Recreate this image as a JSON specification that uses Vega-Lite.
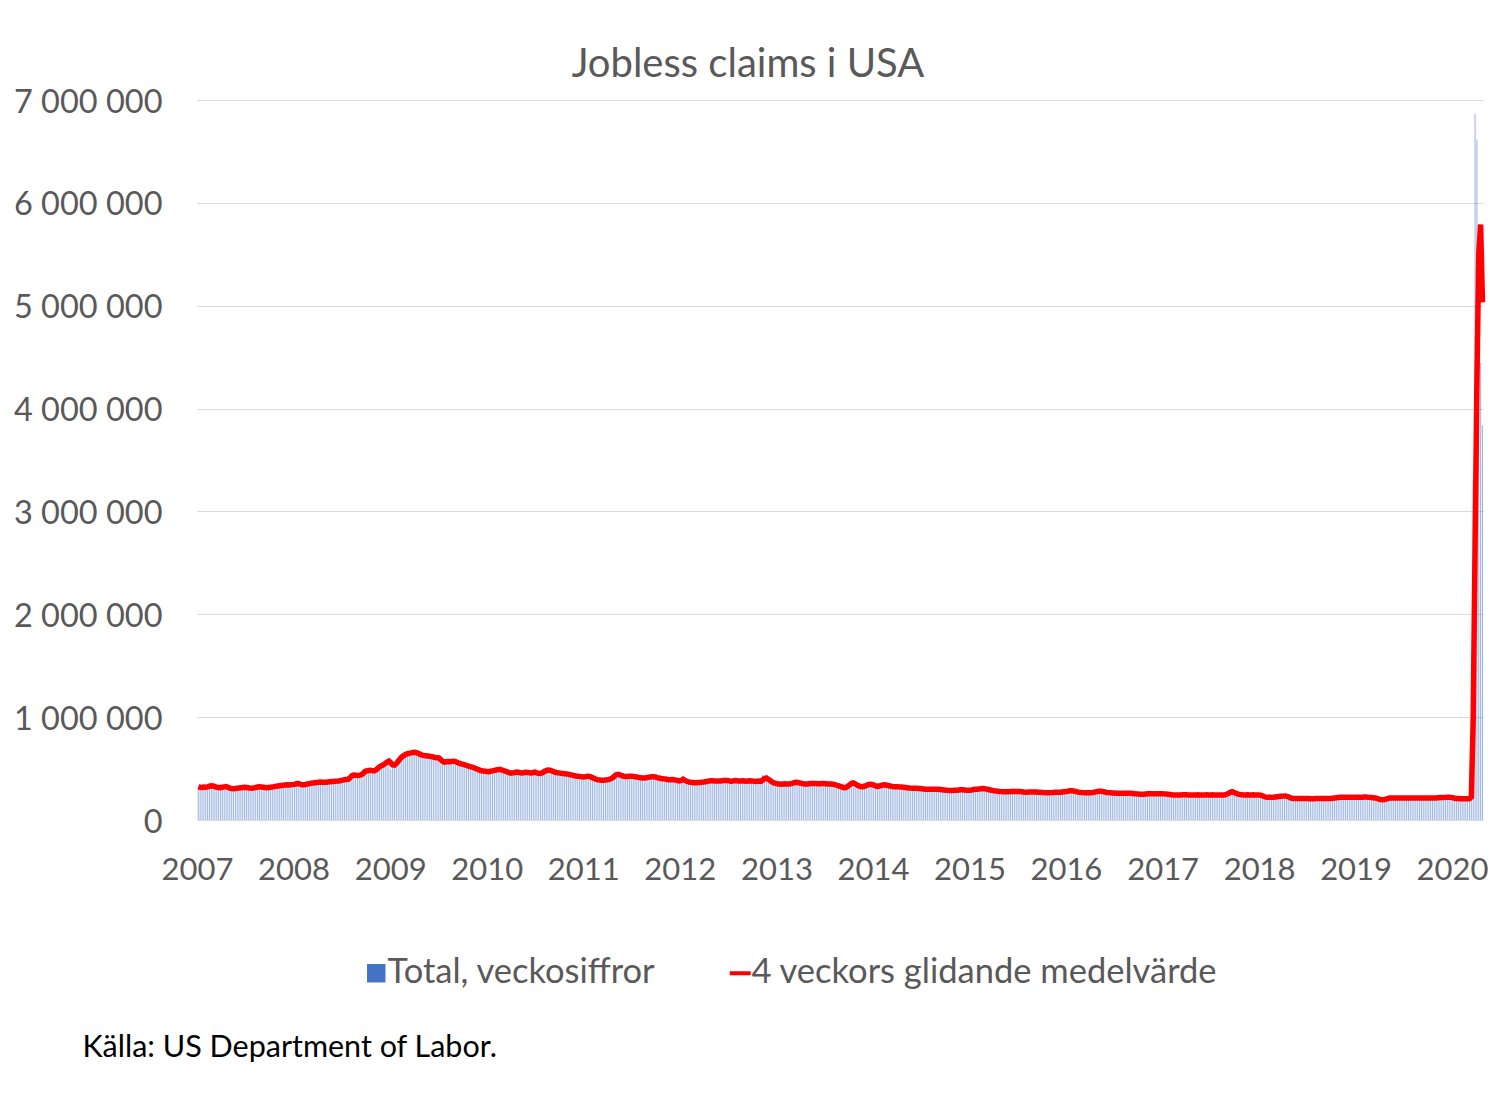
{
"$schema": "https://vega.github.io/schema/vega-lite/v6.json",
"width": 1286,
"height": 720,
"autosize": {"type": "none"},
"padding": {"left": 197, "top": 100, "right": 12, "bottom": 285},
"background": "white",
"config": {"view": {"stroke": null}, "font": "Lato"},
"title": {"text": "Jobless claims i USA", "font": "Lato", "fontSize": 40, "fontWeight": "normal", "color": "#595959", "anchor": "middle", "frame": "group", "dx": -92, "dy": 41, "baseline": "alphabetic", "offset": 10},
"data": {"values": [
{"d":"2007-01-06","c":326000,"m":323000},{"d":"2007-01-13","c":302000,"m":318000},{"d":"2007-01-20","c":314000,"m":316000},{"d":"2007-01-27","c":338000,"m":320000},
{"d":"2007-02-03","c":318000,"m":318000},{"d":"2007-02-10","c":350000,"m":322000},{"d":"2007-02-17","c":335000,"m":328000},{"d":"2007-02-24","c":332000,"m":332000},
{"d":"2007-03-03","c":318000,"m":330000},{"d":"2007-03-10","c":320000,"m":325000},{"d":"2007-03-17","c":311000,"m":318000},{"d":"2007-03-24","c":312000,"m":316000},{"d":"2007-03-31","c":318000,"m":314000},
{"d":"2007-04-07","c":322000,"m":318000},{"d":"2007-04-14","c":336000,"m":322000},{"d":"2007-04-21","c":320000,"m":324000},{"d":"2007-04-28","c":296000,"m":318000},
{"d":"2007-05-05","c":302000,"m":310000},{"d":"2007-05-12","c":306000,"m":306000},{"d":"2007-05-19","c":310000,"m":304000},{"d":"2007-05-26","c":308000,"m":306000},
{"d":"2007-06-02","c":310000,"m":308000},{"d":"2007-06-09","c":318000,"m":312000},{"d":"2007-06-16","c":316000,"m":314000},{"d":"2007-06-23","c":320000,"m":316000},{"d":"2007-06-30","c":316000,"m":318000},
{"d":"2007-07-07","c":310000,"m":316000},{"d":"2007-07-14","c":306000,"m":314000},{"d":"2007-07-21","c":302000,"m":310000},{"d":"2007-07-28","c":312000,"m":308000},
{"d":"2007-08-04","c":318000,"m":312000},{"d":"2007-08-11","c":322000,"m":316000},{"d":"2007-08-18","c":324000,"m":320000},{"d":"2007-08-25","c":318000,"m":322000},
{"d":"2007-09-01","c":316000,"m":320000},{"d":"2007-09-08","c":318000,"m":318000},{"d":"2007-09-15","c":310000,"m":316000},{"d":"2007-09-22","c":316000,"m":314000},{"d":"2007-09-29","c":320000,"m":316000},
{"d":"2007-10-06","c":324000,"m":318000},{"d":"2007-10-13","c":322000,"m":320000},{"d":"2007-10-20","c":332000,"m":324000},{"d":"2007-10-27","c":334000,"m":328000},
{"d":"2007-11-03","c":330000,"m":330000},{"d":"2007-11-10","c":340000,"m":334000},{"d":"2007-11-17","c":336000,"m":336000},{"d":"2007-11-24","c":342000,"m":338000},
{"d":"2007-12-01","c":344000,"m":340000},{"d":"2007-12-08","c":338000,"m":342000},{"d":"2007-12-15","c":340000,"m":340000},{"d":"2007-12-22","c":348000,"m":342000},{"d":"2007-12-29","c":350000,"m":344000},
{"d":"2008-01-05","c":344000,"m":346000},{"d":"2008-01-12","c":364000,"m":352000},{"d":"2008-01-19","c":352000,"m":354000},{"d":"2008-01-26","c":332000,"m":348000},
{"d":"2008-02-02","c":336000,"m":342000},{"d":"2008-02-09","c":348000,"m":342000},{"d":"2008-02-16","c":352000,"m":346000},{"d":"2008-02-23","c":362000,"m":350000},
{"d":"2008-03-01","c":356000,"m":354000},{"d":"2008-03-08","c":360000,"m":358000},{"d":"2008-03-15","c":362000,"m":360000},{"d":"2008-03-22","c":370000,"m":362000},{"d":"2008-03-29","c":366000,"m":364000},
{"d":"2008-04-05","c":374000,"m":368000},{"d":"2008-04-12","c":368000,"m":370000},{"d":"2008-04-19","c":362000,"m":368000},{"d":"2008-04-26","c":360000,"m":366000},
{"d":"2008-05-03","c":374000,"m":368000},{"d":"2008-05-10","c":368000,"m":370000},{"d":"2008-05-17","c":376000,"m":372000},{"d":"2008-05-24","c":372000,"m":374000},{"d":"2008-05-31","c":380000,"m":374000},
{"d":"2008-06-07","c":372000,"m":376000},{"d":"2008-06-14","c":382000,"m":378000},{"d":"2008-06-21","c":378000,"m":380000},{"d":"2008-06-28","c":396000,"m":384000},
{"d":"2008-07-05","c":392000,"m":388000},{"d":"2008-07-12","c":400000,"m":392000},{"d":"2008-07-19","c":390000,"m":394000},{"d":"2008-07-26","c":402000,"m":396000},
{"d":"2008-08-02","c":450000,"m":410000},{"d":"2008-08-09","c":460000,"m":430000},{"d":"2008-08-16","c":436000,"m":438000},{"d":"2008-08-23","c":420000,"m":436000},{"d":"2008-08-30","c":428000,"m":432000},
{"d":"2008-09-06","c":450000,"m":434000},{"d":"2008-09-13","c":456000,"m":440000},{"d":"2008-09-20","c":480000,"m":452000},{"d":"2008-09-27","c":500000,"m":470000},
{"d":"2008-10-04","c":478000,"m":478000},{"d":"2008-10-11","c":468000,"m":482000},{"d":"2008-10-18","c":482000,"m":484000},{"d":"2008-10-25","c":476000,"m":480000},
{"d":"2008-11-01","c":486000,"m":478000},{"d":"2008-11-08","c":512000,"m":486000},{"d":"2008-11-15","c":536000,"m":502000},{"d":"2008-11-22","c":532000,"m":518000},{"d":"2008-11-29","c":518000,"m":528000},
{"d":"2008-12-06","c":560000,"m":536000},{"d":"2008-12-13","c":574000,"m":550000},{"d":"2008-12-20","c":584000,"m":562000},{"d":"2008-12-27","c":572000,"m":572000},
{"d":"2009-01-03","c":492000,"m":556000},{"d":"2009-01-10","c":510000,"m":536000},{"d":"2009-01-17","c":562000,"m":534000},{"d":"2009-01-24","c":590000,"m":548000},{"d":"2009-01-31","c":616000,"m":570000},
{"d":"2009-02-07","c":628000,"m":594000},{"d":"2009-02-14","c":620000,"m":614000},{"d":"2009-02-21","c":640000,"m":626000},{"d":"2009-02-28","c":660000,"m":638000},
{"d":"2009-03-07","c":648000,"m":644000},{"d":"2009-03-14","c":652000,"m":648000},{"d":"2009-03-21","c":654000,"m":652000},{"d":"2009-03-28","c":666000,"m":656000},
{"d":"2009-04-04","c":658000,"m":658000},{"d":"2009-04-11","c":640000,"m":654000},{"d":"2009-04-18","c":624000,"m":646000},{"d":"2009-04-25","c":628000,"m":638000},
{"d":"2009-05-02","c":620000,"m":630000},{"d":"2009-05-09","c":634000,"m":626000},{"d":"2009-05-16","c":628000,"m":624000},{"d":"2009-05-23","c":612000,"m":622000},{"d":"2009-05-30","c":620000,"m":620000},
{"d":"2009-06-06","c":608000,"m":616000},{"d":"2009-06-13","c":610000,"m":612000},{"d":"2009-06-20","c":614000,"m":608000},{"d":"2009-06-27","c":594000,"m":606000},
{"d":"2009-07-04","c":608000,"m":604000},{"d":"2009-07-11","c":540000,"m":588000},{"d":"2009-07-18","c":550000,"m":570000},{"d":"2009-07-25","c":586000,"m":562000},
{"d":"2009-08-01","c":574000,"m":566000},{"d":"2009-08-08","c":562000,"m":568000},{"d":"2009-08-15","c":568000,"m":566000},{"d":"2009-08-22","c":574000,"m":570000},{"d":"2009-08-29","c":578000,"m":572000},
{"d":"2009-09-05","c":560000,"m":568000},{"d":"2009-09-12","c":546000,"m":560000},{"d":"2009-09-19","c":542000,"m":552000},{"d":"2009-09-26","c":536000,"m":546000},
{"d":"2009-10-03","c":540000,"m":542000},{"d":"2009-10-10","c":528000,"m":536000},{"d":"2009-10-17","c":524000,"m":530000},{"d":"2009-10-24","c":520000,"m":524000},{"d":"2009-10-31","c":510000,"m":518000},
{"d":"2009-11-07","c":510000,"m":514000},{"d":"2009-11-14","c":500000,"m":508000},{"d":"2009-11-21","c":478000,"m":500000},{"d":"2009-11-28","c":486000,"m":494000},
{"d":"2009-12-05","c":470000,"m":484000},{"d":"2009-12-12","c":480000,"m":478000},{"d":"2009-12-19","c":468000,"m":476000},{"d":"2009-12-26","c":462000,"m":474000},
{"d":"2010-01-02","c":450000,"m":472000},{"d":"2010-01-09","c":470000,"m":470000},{"d":"2010-01-16","c":486000,"m":474000},{"d":"2010-01-23","c":476000,"m":478000},{"d":"2010-01-30","c":484000,"m":482000},
{"d":"2010-02-06","c":476000,"m":486000},{"d":"2010-02-13","c":492000,"m":490000},{"d":"2010-02-20","c":500000,"m":492000},{"d":"2010-02-27","c":472000,"m":486000},
{"d":"2010-03-06","c":474000,"m":480000},{"d":"2010-03-13","c":460000,"m":474000},{"d":"2010-03-20","c":456000,"m":468000},{"d":"2010-03-27","c":448000,"m":460000},
{"d":"2010-04-03","c":454000,"m":456000},{"d":"2010-04-10","c":466000,"m":458000},{"d":"2010-04-17","c":468000,"m":462000},{"d":"2010-04-24","c":460000,"m":466000},
{"d":"2010-05-01","c":452000,"m":464000},{"d":"2010-05-08","c":456000,"m":460000},{"d":"2010-05-15","c":468000,"m":458000},{"d":"2010-05-22","c":466000,"m":462000},{"d":"2010-05-29","c":458000,"m":464000},
{"d":"2010-06-05","c":462000,"m":462000},{"d":"2010-06-12","c":458000,"m":460000},{"d":"2010-06-19","c":466000,"m":458000},{"d":"2010-06-26","c":468000,"m":462000},
{"d":"2010-07-03","c":470000,"m":466000},{"d":"2010-07-10","c":440000,"m":458000},{"d":"2010-07-17","c":450000,"m":452000},{"d":"2010-07-24","c":462000,"m":454000},{"d":"2010-07-31","c":474000,"m":460000},
{"d":"2010-08-07","c":488000,"m":472000},{"d":"2010-08-14","c":498000,"m":480000},{"d":"2010-08-21","c":486000,"m":486000},{"d":"2010-08-28","c":470000,"m":484000},
{"d":"2010-09-04","c":464000,"m":478000},{"d":"2010-09-11","c":456000,"m":470000},{"d":"2010-09-18","c":462000,"m":464000},{"d":"2010-09-25","c":456000,"m":460000},
{"d":"2010-10-02","c":456000,"m":458000},{"d":"2010-10-09","c":450000,"m":454000},{"d":"2010-10-16","c":452000,"m":452000},{"d":"2010-10-23","c":444000,"m":450000},{"d":"2010-10-30","c":446000,"m":448000},
{"d":"2010-11-06","c":440000,"m":446000},{"d":"2010-11-13","c":434000,"m":440000},{"d":"2010-11-20","c":428000,"m":436000},{"d":"2010-11-27","c":428000,"m":432000},
{"d":"2010-12-04","c":424000,"m":428000},{"d":"2010-12-11","c":420000,"m":426000},{"d":"2010-12-18","c":424000,"m":424000},{"d":"2010-12-25","c":416000,"m":422000},
{"d":"2011-01-01","c":410000,"m":418000},{"d":"2011-01-08","c":436000,"m":420000},{"d":"2011-01-15","c":426000,"m":424000},{"d":"2011-01-22","c":432000,"m":426000},{"d":"2011-01-29","c":400000,"m":420000},
{"d":"2011-02-05","c":392000,"m":412000},{"d":"2011-02-12","c":398000,"m":404000},{"d":"2011-02-19","c":392000,"m":396000},{"d":"2011-02-26","c":378000,"m":390000},
{"d":"2011-03-05","c":388000,"m":388000},{"d":"2011-03-12","c":390000,"m":386000},{"d":"2011-03-19","c":386000,"m":386000},{"d":"2011-03-26","c":392000,"m":388000},
{"d":"2011-04-02","c":394000,"m":390000},{"d":"2011-04-09","c":402000,"m":394000},{"d":"2011-04-16","c":414000,"m":402000},{"d":"2011-04-23","c":428000,"m":412000},{"d":"2011-04-30","c":474000,"m":428000},
{"d":"2011-05-07","c":442000,"m":440000},{"d":"2011-05-14","c":432000,"m":444000},{"d":"2011-05-21","c":426000,"m":438000},{"d":"2011-05-28","c":426000,"m":430000},
{"d":"2011-06-04","c":424000,"m":426000},{"d":"2011-06-11","c":420000,"m":424000},{"d":"2011-06-18","c":428000,"m":424000},{"d":"2011-06-25","c":430000,"m":426000},
{"d":"2011-07-02","c":426000,"m":426000},{"d":"2011-07-09","c":420000,"m":424000},{"d":"2011-07-16","c":414000,"m":420000},{"d":"2011-07-23","c":412000,"m":418000},{"d":"2011-07-30","c":408000,"m":414000},
{"d":"2011-08-06","c":402000,"m":410000},{"d":"2011-08-13","c":410000,"m":408000},{"d":"2011-08-20","c":414000,"m":408000},{"d":"2011-08-27","c":418000,"m":410000},
{"d":"2011-09-03","c":420000,"m":414000},{"d":"2011-09-10","c":426000,"m":418000},{"d":"2011-09-17","c":418000,"m":420000},{"d":"2011-09-24","c":414000,"m":420000},
{"d":"2011-10-01","c":412000,"m":418000},{"d":"2011-10-08","c":406000,"m":412000},{"d":"2011-10-15","c":402000,"m":408000},{"d":"2011-10-22","c":400000,"m":404000},{"d":"2011-10-29","c":398000,"m":402000},
{"d":"2011-11-05","c":396000,"m":400000},{"d":"2011-11-12","c":390000,"m":396000},{"d":"2011-11-19","c":388000,"m":392000},{"d":"2011-11-26","c":396000,"m":392000},
{"d":"2011-12-03","c":398000,"m":394000},{"d":"2011-12-10","c":382000,"m":392000},{"d":"2011-12-17","c":374000,"m":388000},{"d":"2011-12-24","c":380000,"m":384000},{"d":"2011-12-31","c":372000,"m":380000},
{"d":"2012-01-07","c":390000,"m":384000},{"d":"2012-01-14","c":420000,"m":396000},{"d":"2012-01-21","c":362000,"m":386000},{"d":"2012-01-28","c":372000,"m":376000},
{"d":"2012-02-04","c":364000,"m":370000},{"d":"2012-02-11","c":362000,"m":366000},{"d":"2012-02-18","c":358000,"m":364000},{"d":"2012-02-25","c":362000,"m":362000},
{"d":"2012-03-03","c":364000,"m":362000},{"d":"2012-03-10","c":366000,"m":364000},{"d":"2012-03-17","c":360000,"m":364000},{"d":"2012-03-24","c":374000,"m":366000},{"d":"2012-03-31","c":372000,"m":368000},
{"d":"2012-04-07","c":378000,"m":372000},{"d":"2012-04-14","c":384000,"m":376000},{"d":"2012-04-21","c":384000,"m":380000},{"d":"2012-04-28","c":378000,"m":382000},
{"d":"2012-05-05","c":376000,"m":382000},{"d":"2012-05-12","c":374000,"m":380000},{"d":"2012-05-19","c":380000,"m":378000},{"d":"2012-05-26","c":384000,"m":378000},
{"d":"2012-06-02","c":382000,"m":380000},{"d":"2012-06-09","c":386000,"m":382000},{"d":"2012-06-16","c":388000,"m":384000},{"d":"2012-06-23","c":380000,"m":384000},{"d":"2012-06-30","c":382000,"m":384000},
{"d":"2012-07-07","c":368000,"m":380000},{"d":"2012-07-14","c":372000,"m":376000},{"d":"2012-07-21","c":392000,"m":380000},{"d":"2012-07-28","c":384000,"m":384000},
{"d":"2012-08-04","c":376000,"m":382000},{"d":"2012-08-11","c":374000,"m":380000},{"d":"2012-08-18","c":384000,"m":380000},{"d":"2012-08-25","c":386000,"m":382000},
{"d":"2012-09-01","c":378000,"m":380000},{"d":"2012-09-08","c":374000,"m":378000},{"d":"2012-09-15","c":384000,"m":380000},{"d":"2012-09-22","c":386000,"m":382000},{"d":"2012-09-29","c":370000,"m":380000},
{"d":"2012-10-06","c":372000,"m":378000},{"d":"2012-10-13","c":350000,"m":374000},{"d":"2012-10-20","c":390000,"m":376000},{"d":"2012-10-27","c":380000,"m":378000},
{"d":"2012-11-03","c":372000,"m":376000},{"d":"2012-11-10","c":440000,"m":388000},{"d":"2012-11-17","c":420000,"m":404000},{"d":"2012-11-24","c":400000,"m":408000},
{"d":"2012-12-01","c":372000,"m":396000},{"d":"2012-12-08","c":346000,"m":384000},{"d":"2012-12-15","c":362000,"m":370000},{"d":"2012-12-22","c":354000,"m":360000},{"d":"2012-12-29","c":364000,"m":356000},
{"d":"2013-01-05","c":356000,"m":352000},{"d":"2013-01-12","c":338000,"m":350000},{"d":"2013-01-19","c":344000,"m":348000},{"d":"2013-01-26","c":362000,"m":350000},
{"d":"2013-02-02","c":356000,"m":352000},{"d":"2013-02-09","c":346000,"m":350000},{"d":"2013-02-16","c":348000,"m":350000},{"d":"2013-02-23","c":352000,"m":352000},
{"d":"2013-03-02","c":362000,"m":356000},{"d":"2013-03-09","c":368000,"m":362000},{"d":"2013-03-16","c":370000,"m":366000},{"d":"2013-03-23","c":362000,"m":364000},{"d":"2013-03-30","c":350000,"m":360000},
{"d":"2013-04-06","c":352000,"m":356000},{"d":"2013-04-13","c":348000,"m":352000},{"d":"2013-04-20","c":346000,"m":350000},{"d":"2013-04-27","c":350000,"m":350000},
{"d":"2013-05-04","c":354000,"m":352000},{"d":"2013-05-11","c":358000,"m":354000},{"d":"2013-05-18","c":352000,"m":354000},{"d":"2013-05-25","c":354000,"m":354000},
{"d":"2013-06-01","c":352000,"m":354000},{"d":"2013-06-08","c":350000,"m":352000},{"d":"2013-06-15","c":354000,"m":352000},{"d":"2013-06-22","c":358000,"m":354000},{"d":"2013-06-29","c":352000,"m":354000},
{"d":"2013-07-06","c":350000,"m":352000},{"d":"2013-07-13","c":348000,"m":350000},{"d":"2013-07-20","c":352000,"m":350000},{"d":"2013-07-27","c":350000,"m":350000},
{"d":"2013-08-03","c":344000,"m":348000},{"d":"2013-08-10","c":338000,"m":344000},{"d":"2013-08-17","c":330000,"m":338000},{"d":"2013-08-24","c":326000,"m":332000},{"d":"2013-08-31","c":318000,"m":326000},
{"d":"2013-09-07","c":300000,"m":320000},{"d":"2013-09-14","c":310000,"m":314000},{"d":"2013-09-21","c":320000,"m":316000},{"d":"2013-09-28","c":340000,"m":328000},
{"d":"2013-10-05","c":370000,"m":342000},{"d":"2013-10-12","c":372000,"m":356000},{"d":"2013-10-19","c":356000,"m":360000},{"d":"2013-10-26","c":340000,"m":352000},
{"d":"2013-11-02","c":330000,"m":340000},{"d":"2013-11-09","c":326000,"m":332000},{"d":"2013-11-16","c":322000,"m":326000},{"d":"2013-11-23","c":320000,"m":324000},{"d":"2013-11-30","c":340000,"m":328000},
{"d":"2013-12-07","c":352000,"m":336000},{"d":"2013-12-14","c":356000,"m":344000},{"d":"2013-12-21","c":344000,"m":348000},{"d":"2013-12-28","c":340000,"m":346000},
{"d":"2014-01-04","c":332000,"m":340000},{"d":"2014-01-11","c":320000,"m":332000},{"d":"2014-01-18","c":318000,"m":326000},{"d":"2014-01-25","c":336000,"m":330000},
{"d":"2014-02-01","c":340000,"m":336000},{"d":"2014-02-08","c":344000,"m":340000},{"d":"2014-02-15","c":346000,"m":342000},{"d":"2014-02-22","c":334000,"m":338000},
{"d":"2014-03-01","c":330000,"m":334000},{"d":"2014-03-08","c":326000,"m":330000},{"d":"2014-03-15","c":322000,"m":326000},{"d":"2014-03-22","c":324000,"m":324000},{"d":"2014-03-29","c":326000,"m":324000},
{"d":"2014-04-05","c":322000,"m":324000},{"d":"2014-04-12","c":318000,"m":322000},{"d":"2014-04-19","c":322000,"m":320000},{"d":"2014-04-26","c":316000,"m":318000},
{"d":"2014-05-03","c":314000,"m":316000},{"d":"2014-05-10","c":310000,"m":314000},{"d":"2014-05-17","c":314000,"m":312000},{"d":"2014-05-24","c":306000,"m":310000},{"d":"2014-05-31","c":310000,"m":308000},
{"d":"2014-06-07","c":306000,"m":308000},{"d":"2014-06-14","c":310000,"m":308000},{"d":"2014-06-21","c":304000,"m":306000},{"d":"2014-06-28","c":308000,"m":306000},
{"d":"2014-07-05","c":302000,"m":304000},{"d":"2014-07-12","c":298000,"m":302000},{"d":"2014-07-19","c":296000,"m":300000},{"d":"2014-07-26","c":302000,"m":300000},
{"d":"2014-08-02","c":304000,"m":300000},{"d":"2014-08-09","c":298000,"m":300000},{"d":"2014-08-16","c":300000,"m":300000},{"d":"2014-08-23","c":302000,"m":300000},{"d":"2014-08-30","c":298000,"m":300000},
{"d":"2014-09-06","c":296000,"m":298000},{"d":"2014-09-13","c":294000,"m":296000},{"d":"2014-09-20","c":292000,"m":294000},{"d":"2014-09-27","c":290000,"m":292000},
{"d":"2014-10-04","c":288000,"m":290000},{"d":"2014-10-11","c":284000,"m":288000},{"d":"2014-10-18","c":286000,"m":286000},{"d":"2014-10-25","c":288000,"m":286000},
{"d":"2014-11-01","c":290000,"m":288000},{"d":"2014-11-08","c":292000,"m":290000},{"d":"2014-11-15","c":288000,"m":290000},{"d":"2014-11-22","c":296000,"m":292000},{"d":"2014-11-29","c":298000,"m":294000},
{"d":"2014-12-06","c":292000,"m":294000},{"d":"2014-12-13","c":290000,"m":292000},{"d":"2014-12-20","c":288000,"m":290000},{"d":"2014-12-27","c":292000,"m":290000},
{"d":"2015-01-03","c":292000,"m":290000},{"d":"2015-01-10","c":298000,"m":292000},{"d":"2015-01-17","c":300000,"m":296000},{"d":"2015-01-24","c":304000,"m":300000},{"d":"2015-01-31","c":296000,"m":300000},
{"d":"2015-02-07","c":304000,"m":302000},{"d":"2015-02-14","c":308000,"m":304000},{"d":"2015-02-21","c":312000,"m":306000},{"d":"2015-02-28","c":300000,"m":304000},
{"d":"2015-03-07","c":296000,"m":300000},{"d":"2015-03-14","c":292000,"m":296000},{"d":"2015-03-21","c":288000,"m":292000},{"d":"2015-03-28","c":284000,"m":288000},
{"d":"2015-04-04","c":282000,"m":284000},{"d":"2015-04-11","c":280000,"m":282000},{"d":"2015-04-18","c":278000,"m":280000},{"d":"2015-04-25","c":276000,"m":278000},
{"d":"2015-05-02","c":274000,"m":276000},{"d":"2015-05-09","c":272000,"m":274000},{"d":"2015-05-16","c":276000,"m":274000},{"d":"2015-05-23","c":274000,"m":274000},{"d":"2015-05-30","c":276000,"m":274000},
{"d":"2015-06-06","c":278000,"m":276000},{"d":"2015-06-13","c":274000,"m":276000},{"d":"2015-06-20","c":278000,"m":276000},{"d":"2015-06-27","c":276000,"m":276000},
{"d":"2015-07-04","c":278000,"m":276000},{"d":"2015-07-11","c":272000,"m":276000},{"d":"2015-07-18","c":270000,"m":274000},{"d":"2015-07-25","c":268000,"m":272000},
{"d":"2015-08-01","c":270000,"m":270000},{"d":"2015-08-08","c":272000,"m":270000},{"d":"2015-08-15","c":274000,"m":272000},{"d":"2015-08-22","c":272000,"m":272000},{"d":"2015-08-29","c":270000,"m":272000},
{"d":"2015-09-05","c":274000,"m":272000},{"d":"2015-09-12","c":270000,"m":272000},{"d":"2015-09-19","c":268000,"m":270000},{"d":"2015-09-26","c":270000,"m":270000},
{"d":"2015-10-03","c":266000,"m":268000},{"d":"2015-10-10","c":264000,"m":266000},{"d":"2015-10-17","c":262000,"m":264000},{"d":"2015-10-24","c":266000,"m":264000},{"d":"2015-10-31","c":266000,"m":264000},
{"d":"2015-11-07","c":268000,"m":266000},{"d":"2015-11-14","c":270000,"m":268000},{"d":"2015-11-21","c":272000,"m":270000},{"d":"2015-11-28","c":268000,"m":270000},
{"d":"2015-12-05","c":270000,"m":270000},{"d":"2015-12-12","c":272000,"m":270000},{"d":"2015-12-19","c":274000,"m":272000},{"d":"2015-12-26","c":278000,"m":274000},
{"d":"2016-01-02","c":280000,"m":276000},{"d":"2016-01-09","c":284000,"m":280000},{"d":"2016-01-16","c":288000,"m":284000},{"d":"2016-01-23","c":282000,"m":284000},{"d":"2016-01-30","c":278000,"m":282000},
{"d":"2016-02-06","c":272000,"m":278000},{"d":"2016-02-13","c":268000,"m":274000},{"d":"2016-02-20","c":266000,"m":270000},{"d":"2016-02-27","c":266000,"m":268000},
{"d":"2016-03-05","c":264000,"m":266000},{"d":"2016-03-12","c":262000,"m":264000},{"d":"2016-03-19","c":266000,"m":264000},{"d":"2016-03-26","c":264000,"m":264000},
{"d":"2016-04-02","c":266000,"m":264000},{"d":"2016-04-09","c":268000,"m":266000},{"d":"2016-04-16","c":276000,"m":270000},{"d":"2016-04-23","c":280000,"m":274000},{"d":"2016-04-30","c":284000,"m":278000},
{"d":"2016-05-07","c":282000,"m":280000},{"d":"2016-05-14","c":276000,"m":280000},{"d":"2016-05-21","c":270000,"m":276000},{"d":"2016-05-28","c":266000,"m":272000},
{"d":"2016-06-04","c":264000,"m":268000},{"d":"2016-06-11","c":264000,"m":266000},{"d":"2016-06-18","c":262000,"m":264000},{"d":"2016-06-25","c":260000,"m":262000},
{"d":"2016-07-02","c":262000,"m":262000},{"d":"2016-07-09","c":258000,"m":260000},{"d":"2016-07-16","c":260000,"m":260000},{"d":"2016-07-23","c":262000,"m":260000},{"d":"2016-07-30","c":260000,"m":260000},
{"d":"2016-08-06","c":258000,"m":260000},{"d":"2016-08-13","c":262000,"m":260000},{"d":"2016-08-20","c":260000,"m":260000},{"d":"2016-08-27","c":258000,"m":260000},
{"d":"2016-09-03","c":262000,"m":260000},{"d":"2016-09-10","c":256000,"m":258000},{"d":"2016-09-17","c":254000,"m":256000},{"d":"2016-09-24","c":252000,"m":254000},
{"d":"2016-10-01","c":250000,"m":252000},{"d":"2016-10-08","c":248000,"m":250000},{"d":"2016-10-15","c":250000,"m":250000},{"d":"2016-10-22","c":252000,"m":250000},{"d":"2016-10-29","c":254000,"m":252000},
{"d":"2016-11-05","c":256000,"m":254000},{"d":"2016-11-12","c":252000,"m":254000},{"d":"2016-11-19","c":254000,"m":254000},{"d":"2016-11-26","c":256000,"m":254000},
{"d":"2016-12-03","c":258000,"m":256000},{"d":"2016-12-10","c":254000,"m":256000},{"d":"2016-12-17","c":256000,"m":256000},{"d":"2016-12-24","c":258000,"m":256000},{"d":"2016-12-31","c":254000,"m":256000},
{"d":"2017-01-07","c":250000,"m":254000},{"d":"2017-01-14","c":248000,"m":252000},{"d":"2017-01-21","c":250000,"m":250000},{"d":"2017-01-28","c":246000,"m":248000},
{"d":"2017-02-04","c":244000,"m":246000},{"d":"2017-02-11","c":242000,"m":244000},{"d":"2017-02-18","c":246000,"m":244000},{"d":"2017-02-25","c":244000,"m":244000},
{"d":"2017-03-04","c":242000,"m":243000},{"d":"2017-03-11","c":246000,"m":244000},{"d":"2017-03-18","c":244000,"m":245000},{"d":"2017-03-25","c":248000,"m":246000},
{"d":"2017-04-01","c":242000,"m":245000},{"d":"2017-04-08","c":240000,"m":243000},{"d":"2017-04-15","c":246000,"m":243000},{"d":"2017-04-22","c":244000,"m":244000},{"d":"2017-04-29","c":242000,"m":243000},
{"d":"2017-05-06","c":246000,"m":244000},{"d":"2017-05-13","c":244000,"m":245000},{"d":"2017-05-20","c":240000,"m":243000},{"d":"2017-05-27","c":246000,"m":243000},
{"d":"2017-06-03","c":244000,"m":244000},{"d":"2017-06-10","c":242000,"m":244000},{"d":"2017-06-17","c":246000,"m":245000},{"d":"2017-06-24","c":244000,"m":244000},
{"d":"2017-07-01","c":244000,"m":244000},{"d":"2017-07-08","c":246000,"m":245000},{"d":"2017-07-15","c":242000,"m":244000},{"d":"2017-07-22","c":244000,"m":244000},{"d":"2017-07-29","c":242000,"m":243000},
{"d":"2017-08-05","c":246000,"m":244000},{"d":"2017-08-12","c":244000,"m":244000},{"d":"2017-08-19","c":242000,"m":244000},{"d":"2017-08-26","c":250000,"m":246000},
{"d":"2017-09-02","c":262000,"m":252000},{"d":"2017-09-09","c":290000,"m":262000},{"d":"2017-09-16","c":282000,"m":272000},{"d":"2017-09-23","c":262000,"m":274000},{"d":"2017-09-30","c":256000,"m":266000},
{"d":"2017-10-07","c":250000,"m":258000},{"d":"2017-10-14","c":244000,"m":252000},{"d":"2017-10-21","c":242000,"m":248000},{"d":"2017-10-28","c":244000,"m":246000},
{"d":"2017-11-04","c":242000,"m":244000},{"d":"2017-11-11","c":246000,"m":244000},{"d":"2017-11-18","c":244000,"m":245000},{"d":"2017-11-25","c":242000,"m":244000},
{"d":"2017-12-02","c":244000,"m":244000},{"d":"2017-12-09","c":246000,"m":245000},{"d":"2017-12-16","c":244000,"m":244000},{"d":"2017-12-23","c":242000,"m":244000},{"d":"2017-12-30","c":246000,"m":244000},
{"d":"2018-01-06","c":238000,"m":242000},{"d":"2018-01-13","c":222000,"m":236000},{"d":"2018-01-20","c":220000,"m":228000},{"d":"2018-01-27","c":224000,"m":222000},
{"d":"2018-02-03","c":218000,"m":220000},{"d":"2018-02-10","c":222000,"m":220000},{"d":"2018-02-17","c":220000,"m":220000},{"d":"2018-02-24","c":224000,"m":222000},
{"d":"2018-03-03","c":226000,"m":224000},{"d":"2018-03-10","c":228000,"m":226000},{"d":"2018-03-17","c":230000,"m":228000},{"d":"2018-03-24","c":232000,"m":230000},{"d":"2018-03-31","c":236000,"m":232000},
{"d":"2018-04-07","c":236000,"m":234000},{"d":"2018-04-14","c":226000,"m":232000},{"d":"2018-04-21","c":216000,"m":226000},{"d":"2018-04-28","c":212000,"m":218000},
{"d":"2018-05-05","c":210000,"m":212000},{"d":"2018-05-12","c":208000,"m":210000},{"d":"2018-05-19","c":210000,"m":208000},{"d":"2018-05-26","c":206000,"m":208000},
{"d":"2018-06-02","c":210000,"m":208000},{"d":"2018-06-09","c":206000,"m":208000},{"d":"2018-06-16","c":210000,"m":208000},{"d":"2018-06-23","c":206000,"m":208000},{"d":"2018-06-30","c":210000,"m":208000},
{"d":"2018-07-07","c":208000,"m":208000},{"d":"2018-07-14","c":204000,"m":206000},{"d":"2018-07-21","c":206000,"m":206000},{"d":"2018-07-28","c":208000,"m":206000},
{"d":"2018-08-04","c":206000,"m":208000},{"d":"2018-08-11","c":210000,"m":208000},{"d":"2018-08-18","c":208000,"m":208000},{"d":"2018-08-25","c":206000,"m":208000},
{"d":"2018-09-01","c":210000,"m":208000},{"d":"2018-09-08","c":206000,"m":208000},{"d":"2018-09-15","c":208000,"m":208000},{"d":"2018-09-22","c":210000,"m":208000},{"d":"2018-09-29","c":212000,"m":210000},
{"d":"2018-10-06","c":214000,"m":212000},{"d":"2018-10-13","c":216000,"m":214000},{"d":"2018-10-20","c":218000,"m":216000},{"d":"2018-10-27","c":220000,"m":218000},
{"d":"2018-11-03","c":222000,"m":220000},{"d":"2018-11-10","c":218000,"m":220000},{"d":"2018-11-17","c":222000,"m":220000},{"d":"2018-11-24","c":220000,"m":220000},
{"d":"2018-12-01","c":224000,"m":222000},{"d":"2018-12-08","c":220000,"m":222000},{"d":"2018-12-15","c":224000,"m":222000},{"d":"2018-12-22","c":218000,"m":220000},{"d":"2018-12-29","c":222000,"m":220000},
{"d":"2019-01-05","c":218000,"m":220000},{"d":"2019-01-12","c":222000,"m":220000},{"d":"2019-01-19","c":218000,"m":220000},{"d":"2019-01-26","c":226000,"m":222000},
{"d":"2019-02-02","c":226000,"m":224000},{"d":"2019-02-09","c":222000,"m":224000},{"d":"2019-02-16","c":220000,"m":222000},{"d":"2019-02-23","c":218000,"m":220000},
{"d":"2019-03-02","c":216000,"m":218000},{"d":"2019-03-09","c":214000,"m":216000},{"d":"2019-03-16","c":210000,"m":214000},{"d":"2019-03-23","c":206000,"m":210000},{"d":"2019-03-30","c":200000,"m":204000},
{"d":"2019-04-06","c":194000,"m":198000},{"d":"2019-04-13","c":198000,"m":196000},{"d":"2019-04-20","c":204000,"m":198000},{"d":"2019-04-27","c":212000,"m":204000},
{"d":"2019-05-04","c":216000,"m":210000},{"d":"2019-05-11","c":214000,"m":214000},{"d":"2019-05-18","c":212000,"m":214000},{"d":"2019-05-25","c":216000,"m":214000},
{"d":"2019-06-01","c":214000,"m":214000},{"d":"2019-06-08","c":216000,"m":215000},{"d":"2019-06-15","c":212000,"m":214000},{"d":"2019-06-22","c":214000,"m":214000},{"d":"2019-06-29","c":216000,"m":215000},
{"d":"2019-07-06","c":212000,"m":214000},{"d":"2019-07-13","c":214000,"m":213000},{"d":"2019-07-20","c":216000,"m":214000},{"d":"2019-07-27","c":212000,"m":214000},
{"d":"2019-08-03","c":214000,"m":214000},{"d":"2019-08-10","c":216000,"m":215000},{"d":"2019-08-17","c":212000,"m":214000},{"d":"2019-08-24","c":214000,"m":214000},{"d":"2019-08-31","c":216000,"m":214000},
{"d":"2019-09-07","c":212000,"m":214000},{"d":"2019-09-14","c":214000,"m":213000},{"d":"2019-09-21","c":216000,"m":214000},{"d":"2019-09-28","c":212000,"m":214000},
{"d":"2019-10-05","c":214000,"m":214000},{"d":"2019-10-12","c":216000,"m":215000},{"d":"2019-10-19","c":212000,"m":214000},{"d":"2019-10-26","c":214000,"m":214000},
{"d":"2019-11-02","c":216000,"m":214000},{"d":"2019-11-09","c":218000,"m":216000},{"d":"2019-11-16","c":220000,"m":218000},{"d":"2019-11-23","c":216000,"m":218000},{"d":"2019-11-30","c":220000,"m":218000},
{"d":"2019-12-07","c":224000,"m":220000},{"d":"2019-12-14","c":222000,"m":222000},{"d":"2019-12-21","c":220000,"m":222000},{"d":"2019-12-28","c":218000,"m":220000},
{"d":"2020-01-04","c":214000,"m":216000},{"d":"2020-01-11","c":210000,"m":212000},{"d":"2020-01-18","c":208000,"m":210000},{"d":"2020-01-25","c":206000,"m":208000},
{"d":"2020-02-01","c":206000,"m":206000},{"d":"2020-02-08","c":204000,"m":206000},{"d":"2020-02-15","c":208000,"m":206000},{"d":"2020-02-22","c":206000,"m":206000},{"d":"2020-02-29","c":208000,"m":206000},
{"d":"2020-03-07","c":211000,"m":208000},{"d":"2020-03-14","c":282000,"m":224000},{"d":"2020-03-21","c":3307000,"m":1002000},{"d":"2020-03-28","c":6867000,"m":2665000},
{"d":"2020-04-04","c":6615000,"m":4268000},{"d":"2020-04-11","c":5237000,"m":5507000},{"d":"2020-04-18","c":4442000,"m":5790000},{"d":"2020-04-25","c":3839000,"m":5033000}
]},
"layer": [
{
"mark": {"type": "bar", "size": 1.1, "opacity": 0.5},
"encoding": {
"x": {"field": "d", "type": "temporal",
"scale": {"type": "utc", "padding": 0, "domain": [{"year": 2007, "month": 1, "date": 1, "utc": true}, {"year": 2020, "month": 4, "date": 27, "utc": true}]},
"axis": {"values": [{"year":2007,"month":1,"date":1,"utc":true},{"year":2008,"month":1,"date":1,"utc":true},{"year":2009,"month":1,"date":1,"utc":true},{"year":2010,"month":1,"date":1,"utc":true},{"year":2011,"month":1,"date":1,"utc":true},{"year":2012,"month":1,"date":1,"utc":true},{"year":2013,"month":1,"date":1,"utc":true},{"year":2014,"month":1,"date":1,"utc":true},{"year":2015,"month":1,"date":1,"utc":true},{"year":2016,"month":1,"date":1,"utc":true},{"year":2017,"month":1,"date":1,"utc":true},{"year":2018,"month":1,"date":1,"utc":true},{"year":2019,"month":1,"date":1,"utc":true},{"year":2020,"month":1,"date":1,"utc":true}],
"format": "%Y", "labelFont": "Lato", "labelFontSize": 31, "labelColor": "#595959", "labelPadding": 59, "labelBaseline": "alphabetic", "labelAngle": 0, "labelFlush": false, "labelOverlap": false,
"ticks": false, "domain": true, "domainColor": "#d9d9d9", "domainWidth": 1, "grid": false,
"title": "Källa: US Department of Labor.", "titleFont": "Lato", "titleFontSize": 30.5, "titleFontWeight": "normal", "titleColor": "#000000", "titleX": -115, "titleY": 236, "titleAlign": "left", "titleAnchor": "start", "titleBaseline": "alphabetic"}},
"y": {"field": "c", "type": "quantitative",
"scale": {"domain": [0, 7000000]},
"axis": {"title": null, "values": [0, 1000000, 2000000, 3000000, 4000000, 5000000, 6000000, 7000000],
"labelExpr": "replace(format(datum.value, ','), regexp(',', 'g'), ' ')",
"labelFont": "Lato", "labelFontSize": 32.5, "labelColor": "#595959", "labelPadding": 35, "labelBaseline": "alphabetic", "labelOffset": 12,
"ticks": false, "domain": false, "grid": true, "gridColor": "#d9d9d9", "gridWidth": 1}},
"fill": {"datum": "Total, veckosiffror", "type": "nominal", "scale": {"range": ["#4472C4"]},
"legend": {"orient": "none", "legendX": 162, "legendY": 856, "title": null, "padding": 0, "symbolType": "square", "symbolSize": 340, "symbolOpacity": 1, "symbolStrokeWidth": 0, "labelFont": "Lato", "labelFontSize": 34.5, "labelColor": "#595959", "labelOffset": -6, "labelLimit": 0}}
}
},
{
"mark": {"type": "line", "strokeWidth": 5.5},
"encoding": {
"x": {"field": "d", "type": "temporal"},
"y": {"field": "m", "type": "quantitative"},
"stroke": {"datum": "4 veckors glidande medelvärde", "type": "nominal", "scale": {"range": ["#FF0000"]},
"legend": {"orient": "none", "legendX": 526, "legendY": 856, "title": null, "padding": 0, "symbolType": "stroke", "symbolSize": 441, "symbolStrokeWidth": 4, "labelFont": "Lato", "labelFontSize": 34.5, "labelColor": "#595959", "labelOffset": -6, "labelLimit": 0}}
}
}
]
}
